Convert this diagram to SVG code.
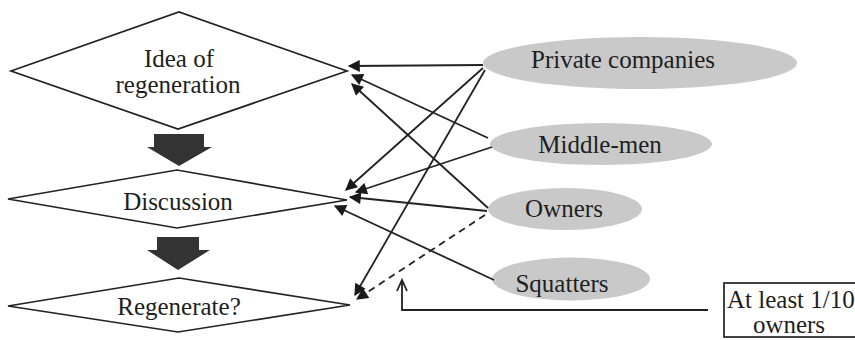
<svg xmlns="http://www.w3.org/2000/svg" width="855" height="340" viewBox="0 0 855 340">
  <style>
    .lbl { font-family: "Liberation Serif", "Times New Roman", serif; font-size: 25px; fill: #1e1e1e; }
    .mid { text-anchor: middle; }
    .diamond { fill: #ffffff; stroke: #222222; stroke-width: 1.7; }
    .actor { fill: #c9c9c9; stroke: none; }
    .flow { fill: #333333; }
    .link { fill: none; stroke: #222222; stroke-width: 1.8; }
    .dash { stroke-dasharray: 7 5; }
    .box { fill: #ffffff; stroke: #222222; stroke-width: 1.7; }
  </style>
  <defs>
    <marker id="ah" viewBox="0 0 10 10" refX="9" refY="5" markerWidth="15" markerHeight="12" orient="auto" markerUnits="userSpaceOnUse">
      <path d="M0,0 L10,5 L0,10 z" fill="#1a1a1a"/>
    </marker>
  </defs>

  <rect width="855" height="340" fill="#ffffff"/>

  <!-- decision steps -->
  <g id="idea">
    <polygon class="diamond" points="11,71 179,12 347,71 178,129"/>
    <text class="lbl mid" x="179" y="67">Idea of</text>
    <text class="lbl mid" x="178" y="93">regeneration</text>
  </g>
  <g id="step1">
    <path class="flow" d="M154,134 H204 V147 H212 L179,166 L147,147 H154 Z"/>
  </g>
  <g id="discussion">
    <polygon class="diamond" points="8,199 177,170 347,200 177,228"/>
    <text class="lbl mid" x="178" y="210">Discussion</text>
  </g>
  <g id="step2">
    <path class="flow" d="M157,237 H199 V250 H210 L178,270 L147,250 H157 Z"/>
  </g>
  <g id="regenerate">
    <polygon class="diamond" points="8,306 179,278 350,305 178,332"/>
    <text class="lbl mid" x="179" y="315">Regenerate?</text>
  </g>

  <!-- stakeholders -->
  <g id="private">
    <ellipse class="actor" cx="640" cy="63" rx="157" ry="26"/>
    <text class="lbl mid" x="623" y="68">Private companies</text>
  </g>
  <g id="middlemen">
    <ellipse class="actor" cx="601" cy="144" rx="111" ry="21"/>
    <text class="lbl mid" x="600" y="153">Middle-men</text>
  </g>
  <g id="owners">
    <ellipse class="actor" cx="565" cy="209" rx="77" ry="21"/>
    <text class="lbl mid" x="564" y="217">Owners</text>
  </g>
  <g id="squatters">
    <ellipse class="actor" cx="571" cy="279" rx="79" ry="21.5"/>
    <text class="lbl mid" x="562" y="292">Squatters</text>
  </g>

  <g id="quorum">
    <rect class="box" x="724" y="283" width="140" height="54"/>
    <text class="lbl" x="727" y="308">At least 1/10</text>
    <text class="lbl mid" x="789" y="333">owners</text>
  </g>

  <!-- influence links -->
  <g id="connectors">
    <line class="link" x1="483" y1="65" x2="349" y2="66" marker-end="url(#ah)"/>
    <line class="link" x1="488" y1="138" x2="352" y2="75" marker-end="url(#ah)"/>
    <line class="link" x1="488" y1="208" x2="352" y2="84" marker-end="url(#ah)"/>
    <line class="link" x1="483" y1="68" x2="346" y2="190" marker-end="url(#ah)"/>
    <line class="link" x1="485" y1="70" x2="355" y2="295" marker-end="url(#ah)"/>
    <line class="link" x1="492" y1="147" x2="356" y2="192" marker-end="url(#ah)"/>
    <line class="link" x1="487" y1="211" x2="350" y2="197" marker-end="url(#ah)"/>
    <line class="link dash" x1="485" y1="215" x2="357" y2="299" marker-end="url(#ah)"/>
    <line class="link" x1="494" y1="280" x2="335" y2="206" marker-end="url(#ah)"/>
    <polyline class="link" points="708,310 402,310 402,280"/>
    <polyline class="link" points="397,291 402,280 407,291"/>
  </g>
</svg>
